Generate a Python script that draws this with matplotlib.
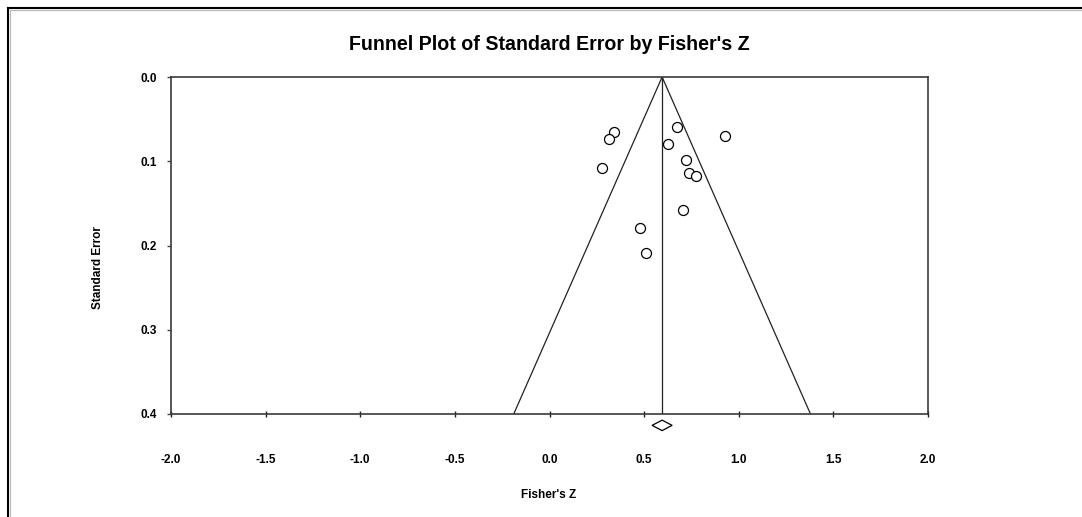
import matplotlib
matplotlib.use("Agg")
import matplotlib.pyplot as plt
from matplotlib.lines import Line2D
from matplotlib.patches import Polygon

plt.rcParams['font.family'] = ['Liberation Sans', 'DejaVu Sans']

# Study effect sizes (Fisher's Z) and their standard errors
fisher_z = [0.342, 0.314, 0.276, 0.674, 0.625, 0.926, 0.723, 0.739, 0.774, 0.707, 0.480, 0.508]
std_error = [0.065, 0.0735, 0.108, 0.059, 0.080, 0.0697, 0.099, 0.1145, 0.118, 0.158, 0.179, 0.2085]

# Combined estimate and its confidence interval
pooled_z = 0.595
pooled_low = 0.542
pooled_high = 0.648

x_ticks = [-2.0, -1.5, -1.0, -0.5, 0.0, 0.5, 1.0, 1.5, 2.0]
y_ticks = [0.0, 0.1, 0.2, 0.3, 0.4]
se_max = 0.4
z_crit = 1.96

W, H = 1082, 517
fig = plt.figure(figsize=(W / 100, H / 100), dpi=100)
ax = fig.add_axes([171 / W, 1 - 414 / H, (928 - 171) / W, (414 - 77) / H])

ax.set_xlim(-2.0, 2.0)
ax.set_ylim(se_max, 0.0)

# Funnel: pseudo 95% limits around the combined estimate
ax.plot([pooled_z - z_crit * se_max, pooled_z, pooled_z + z_crit * se_max],
        [se_max, 0.0, se_max], color='#222222', lw=0.9)
ax.plot([pooled_z, pooled_z], [0.0, se_max], color='#222222', lw=0.9)

# Individual studies
ax.plot(fisher_z, std_error, linestyle='none', marker='o', markersize=7.2,
        markerfacecolor='white', markeredgecolor='black', markeredgewidth=0.9)

# Diamond for the combined effect, just below the axis
dy = 0.0062
yc = 0.4135
diamond = Polygon([[pooled_low, yc], [pooled_z, yc - dy], [pooled_high, yc], [pooled_z, yc + dy]],
                  closed=True, facecolor='white', edgecolor='black', lw=0.9, clip_on=False)
ax.add_patch(diamond)

ax.set_xticks(x_ticks)
ax.set_xticklabels([f"{v:.1f}" for v in x_ticks])
ax.set_yticks(y_ticks)
ax.set_yticklabels([f"{v:.1f}" for v in y_ticks])

for s in ax.spines.values():
    s.set_color('#3a3a3a')
    s.set_linewidth(1.2)

ax.tick_params(axis='x', direction='inout', length=5, width=1, color='#222222', pad=26, labelsize=8.5)
ax.tick_params(axis='y', direction='out', length=3, width=1, color='#444444', pad=7, labelsize=8.5)
for lbl in ax.get_xticklabels() + ax.get_yticklabels():
    lbl.set_fontweight('bold')

fig.text(549 / W, 1 - 45 / H, "Funnel Plot of Standard Error by Fisher's Z",
         ha='center', va='center', fontsize=14.1, fontweight='bold')
fig.text(549 / W, 1 - 495 / H, "Fisher's Z", ha='center', va='center',
         fontsize=8.5, fontweight='bold')
fig.text(98 / W, 1 - 268 / H, "Standard Error", ha='center', va='center',
         rotation=90, fontsize=8.5, fontweight='bold')

# Outer frame: dark top and left edges with a light inner shade
fig.add_artist(Line2D([8 / W, 1.0], [1 - 8 / H, 1 - 8 / H], color='black', lw=1.5))
fig.add_artist(Line2D([8 / W, 8 / W], [0.0, 1 - 8 / H], color='black', lw=1.5))
fig.add_artist(Line2D([10 / W, 1.0], [1 - 10 / H, 1 - 10 / H], color='#bbbbbb', lw=0.9))
fig.add_artist(Line2D([10 / W, 10 / W], [0.0, 1 - 10 / H], color='#bbbbbb', lw=0.9))

fig.savefig("out.png", dpi=100)
